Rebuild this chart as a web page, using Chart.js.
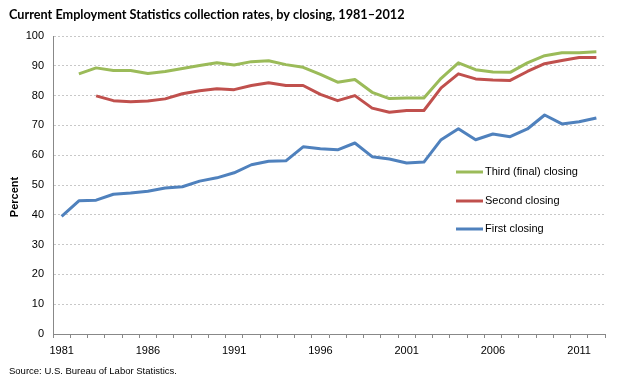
<!DOCTYPE html>
<html>
<head>
<meta charset="utf-8">
<script src="https://cdn.jsdelivr.net/npm/chart.js@4"></script>
<style>
html,body{margin:0;padding:0;background:#fff;}
#wrap{position:relative;width:620px;height:380px;}
</style>
</head>
<body>
<div id="wrap"><canvas id="c" width="620" height="380"></canvas></div>
<script>
const years = ["1981","1982","1983","1984","1985","1986","1987","1988","1989","1990","1991","1992","1993","1994","1995","1996","1997","1998","1999","2000","2001","2002","2003","2004","2005","2006","2007","2008","2009","2010","2011","2012"];
const thirdClosing = [null,87.3,89.3,88.4,88.4,87.4,88.1,89.1,90.1,91.0,90.3,91.4,91.7,90.4,89.5,87.1,84.5,85.4,81.1,79.0,79.2,79.2,85.8,91.0,88.7,87.9,87.8,91.0,93.4,94.4,94.4,94.7];
const secondClosing = [null,null,79.9,78.3,77.9,78.2,78.9,80.6,81.6,82.3,82.0,83.4,84.3,83.4,83.4,80.4,78.3,80.0,75.8,74.4,75.0,75.0,82.6,87.3,85.6,85.2,85.1,88.1,90.7,91.8,92.8,92.8];
const firstClosing = [39.5,44.7,44.9,46.9,47.3,47.9,49.0,49.4,51.3,52.4,54.1,56.8,58.0,58.1,62.8,62.2,61.8,64.1,59.5,58.7,57.4,57.7,65.2,68.9,65.2,67.1,66.2,68.8,73.5,70.5,71.2,72.5];
const yTicks = [0,10,20,30,40,50,60,70,80,90,100];
const seriesNames = ["Third (final) closing","Second closing","First closing"];
const seriesColors = ["#9bbb59","#c0504d","#4f81bd"];

const extras = {
  id:'extras',
  afterDraw(chart){
    const ctx = chart.ctx;
    ctx.save();
    // title
    ctx.fillStyle = '#000';
    ctx.font = 'bold 12.7px Lato';
    ctx.textBaseline = 'middle';
    ctx.textAlign = 'left';
    ctx.fillText('Current Employment Statistics collection rates, by closing, 1981\u20132012', 9, 15);
    // source
    ctx.font = '9.5px "Liberation Sans"';
    ctx.fillText('Source: U.S. Bureau of Labor Statistics.', 9, 371);
    // y title
    ctx.save();
    ctx.translate(15, 197);
    ctx.rotate(-Math.PI/2);
    ctx.textAlign = 'center';
    ctx.font = 'bold 11px "Liberation Sans"';
    ctx.fillText('Percent', 0, 0);
    ctx.restore();
    // legend
    const ys = [172, 201, 229];
    ctx.font = '11px "Liberation Sans"';
    ctx.lineWidth = 3;
    for (let i=0;i<3;i++){
      ctx.strokeStyle = seriesColors[i];
      ctx.beginPath();
      ctx.moveTo(456, ys[i]);
      ctx.lineTo(483, ys[i]);
      ctx.stroke();
      ctx.fillStyle = '#000';
      ctx.fillText(seriesNames[i], 485, ys[i]);
    }
    ctx.restore();
  }
};

new Chart(document.getElementById('c'), {
  type:'line',
  data:{
    labels: years,
    datasets:[
      {label:seriesNames[0], data:thirdClosing, borderColor:seriesColors[0]},
      {label:seriesNames[1], data:secondClosing, borderColor:seriesColors[1]},
      {label:seriesNames[2], data:firstClosing, borderColor:seriesColors[2]}
    ].map(d=>Object.assign(d,{borderWidth:3, pointRadius:0, tension:0, fill:false, spanGaps:false, borderJoinStyle:'round', borderCapStyle:'butt'}))
  },
  options:{
    responsive:false,
    animation:false,
    devicePixelRatio:1,
    layout:{padding:{left:0, top:36, right:15, bottom:0}},
    plugins:{legend:{display:false}, title:{display:false}, tooltip:{enabled:false}},
    scales:{
      x:{
        type:'category',
        offset:true,
        grid:{offset:true, drawOnChartArea:false, drawTicks:true, tickLength:4, color:'#888'},
        border:{display:true, color:'#888'},
        ticks:{autoSkip:false, maxRotation:0, minRotation:0, padding:6, color:'#000',
          font:{family:'"Liberation Sans"', size:11},
          callback:function(v,i){ return i%5===0 ? years[i] : ''; }},
        afterFit:function(s){ s.height = 46; }
      },
      y:{
        min:0, max:100,
        afterBuildTicks:function(s){ s.ticks = yTicks.map(v=>({value:v})); },
        grid:{color:'#c8c8c8', drawTicks:false, lineWidth:1},
        border:{display:true, color:'#888', dash:[2,2]},
        ticks:{padding:9, color:'#000', font:{family:'"Liberation Sans"', size:11}},
        afterFit:function(s){ s.width = 53; }
      }
    }
  },
  plugins:[extras]
});
</script>
</body>
</html>
